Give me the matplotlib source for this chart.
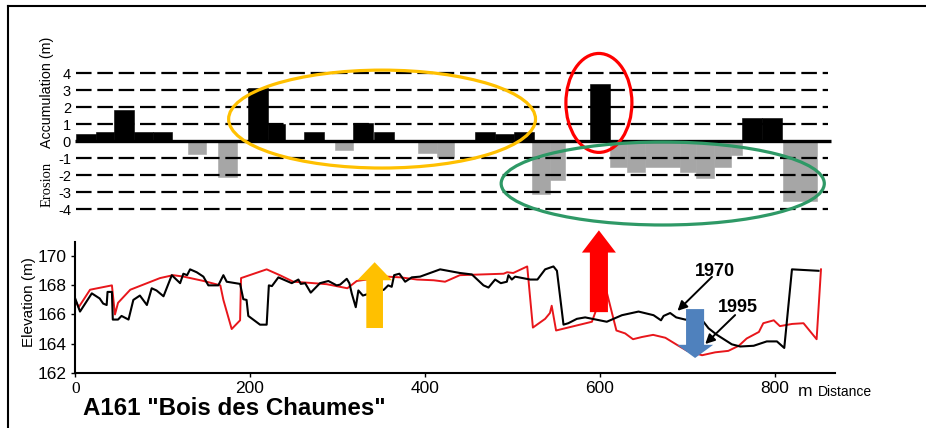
import matplotlib
matplotlib.use('Agg')
import matplotlib.pyplot as plt
from matplotlib.patches import FancyArrowPatch, Ellipse, ArrowStyle
from matplotlib.lines import Line2D

plt.rcParams['font.family'] = ['Liberation Sans', 'DejaVu Sans']

# accumulation / erosion bars (m) : left edge, width along the profile, value
bar_left = [1, 24, 44, 67, 89, 129, 163, 198, 221, 262, 297, 318, 342, 392, 414,
            457, 480, 502, 523, 543, 589, 612, 631, 652, 692, 710, 731, 750, 763, 785, 810]
bar_width = [23, 20, 23, 22, 22, 21, 22, 23, 19, 23, 21, 23, 23, 22, 19,
             23, 22, 23, 20, 17, 23, 19, 21, 40, 18, 21, 19, 13, 22, 23, 38]
bar_value = [0.4, 0.55, 1.85, 0.55, 0.55, -0.75, -2.1, 3.1, 1.0, 0.55, -0.5, 1.05, 0.55, -0.7, -0.95,
             0.55, 0.4, 0.55, -3.1, -2.3, 3.35, -1.5, -1.85, -1.5, -1.8, -2.2, -1.5, -0.85, 1.35, 1.35, -3.55]

# profile 1970 (black)
d_1970 = [0, 5.5, 19, 28, 32, 36, 37, 42, 43, 49, 53, 61, 66.5, 74, 82, 87.5, 93, 101, 110.5, 120,
          123.7, 128, 131.4, 139, 146.6, 152.3, 163.7, 169.5, 173.3, 188.6, 192.3, 196, 198, 211.4,
          219, 221.5, 225, 232.4, 247.7, 255.3, 258, 263, 269.4, 280, 289.6, 299, 303, 310.6, 313.6,
          316.3, 320.9, 323.9, 329, 340, 353, 358, 362, 364.8, 370.8, 377.4, 385, 394.5, 417.4, 440,
          453.7, 467, 472.7, 480.3, 486.8, 493.7, 495.5, 499.4, 503.2, 520.4, 528.7, 537.5, 547, 551,
          558.5, 564, 573.8, 583.3, 608, 625.3, 644.3, 661.5, 670, 673, 680.5, 687.4, 697.7, 710,
          718.6, 724.4, 734, 751, 760.6, 776, 791, 802.6, 811, 819.8, 850.2]
z_1970 = [167.1, 166.2, 167.45, 167.1, 166.75, 166.65, 167.55, 167.55, 165.65, 165.65, 165.9, 165.65,
          167.0, 167.3, 166.65, 167.8, 167.65, 167.25, 168.7, 168.15, 168.8, 168.7, 169.1, 168.9, 168.6,
          168.0, 168.0, 168.7, 168.25, 168.1, 167.05, 167.0, 165.9, 165.3, 165.3, 168.0, 167.95, 168.55,
          168.15, 168.4, 168.1, 168.15, 167.5, 168.15, 168.3, 168.0, 168.05, 168.45, 168.15, 167.45,
          166.5, 167.65, 167.3, 167.5, 167.7, 168.0, 167.9, 168.7, 168.8, 168.25, 168.55, 168.6, 169.1,
          168.85, 168.75, 168.0, 167.85, 168.4, 168.15, 168.25, 168.7, 168.4, 168.6, 168.4, 168.4, 169.1,
          169.3, 169.0, 165.3, 165.4, 165.7, 165.8, 165.5, 165.95, 166.2, 165.95, 165.6, 165.9, 166.1,
          165.8, 165.65, 165.6, 165.5, 165.05, 164.6, 163.95, 163.8, 163.85, 164.15, 164.15, 163.7,
          169.1, 169.0]

# profile 1995 (red)
d_1995 = [0, 4, 17, 42, 45.5, 49, 63, 97, 112, 124, 147, 166, 169.5, 179, 188.6, 189.7, 219, 234,
          249.5, 268.6, 287.7, 311.3, 322, 356, 372, 391, 410, 423, 440, 490, 494, 501, 517, 523.5,
          537.5, 543, 545, 550, 591, 606, 619, 629, 638, 648, 661, 675, 690, 700, 717, 732, 747, 759,
          768, 782, 787, 799, 806, 820, 833, 848, 853]
z_1995 = [167.0, 166.5, 167.7, 168.0, 166.0, 166.8, 167.7, 168.5, 168.7, 168.6, 168.3, 168.0, 167.0,
          165.0, 165.6, 168.5, 169.1, 168.7, 168.25, 168.17, 168.08, 167.8, 168.3, 168.6, 168.55, 168.4,
          168.35, 168.25, 168.7, 168.8, 168.9, 168.85, 169.3, 165.1, 165.7, 166.1, 166.6, 164.9, 165.5,
          168.0, 164.9, 164.7, 164.3, 164.45, 164.6, 164.4, 163.85, 163.5, 163.2, 163.4, 163.5, 163.85,
          164.35, 164.8, 165.4, 165.6, 165.2, 165.35, 165.4, 164.3, 169.1]

acc_ticks = [4, 3, 2, 1, 0, -1, -2, -3, -4]
elev_ticks = [162, 164, 166, 168, 170]
dist_ticks = [0, 200, 400, 600, 800]

fig = plt.figure(figsize=(9.26, 4.28), dpi=100)
ax_top = fig.add_axes([0.0812, 0.4918, 0.8205, 0.3575])
ax_bot = fig.add_axes([0.0812, 0.1292, 0.8205, 0.3061])

# ---- top panel: accumulation / erosion
colors = ['black' if v > 0 else '#a6a6a6' for v in bar_value]
ax_top.bar(bar_left, bar_value, width=bar_width, align='edge', color=colors,
           edgecolor=colors, linewidth=0.4, zorder=2)
for t in acc_ticks:
    if t == 0:
        continue
    ax_top.hlines(t, 1, 861, colors='black', linewidth=1.6, linestyles=(0, (7, 2.6)), zorder=3)
ax_top.hlines(0, 0, 864, colors='black', linewidth=2.4, zorder=4)
ax_top.set_xlim(0, 869)
ax_top.set_ylim(-4.5, 4.5)
ax_top.set_yticks(acc_ticks)
ax_top.set_yticklabels([str(t) for t in acc_ticks], fontsize=10.5)
ax_top.tick_params(axis='y', length=0, pad=3)
ax_top.set_xticks([])
for s in ax_top.spines.values():
    s.set_visible(False)
ax_top.patch.set_visible(False)

ax_top.add_patch(Ellipse((351, 1.29), 351, 5.76, fill=False, edgecolor='#ffc000',
                         linewidth=2.3, zorder=6, clip_on=False))
ax_top.add_patch(Ellipse((599, 2.24), 75.5, 5.82, fill=False, edgecolor='#ff0000',
                         linewidth=2.3, zorder=6, clip_on=False))
ax_top.add_patch(Ellipse((672, -2.5), 369.6, 4.88, fill=False, edgecolor='#2e9966',
                         linewidth=2.3, zorder=6, clip_on=False))

# ---- bottom panel: elevation profiles
ax_bot.plot(d_1970, z_1970, color='black', linewidth=1.5, zorder=3)
ax_bot.plot(d_1995, z_1995, color='#e8161b', linewidth=1.4, zorder=2)
ax_bot.set_xlim(0, 869)
ax_bot.set_ylim(162, 171)
ax_bot.set_yticks(elev_ticks)
ax_bot.set_yticklabels([str(t) for t in elev_ticks], fontsize=12.5)
ax_bot.set_xticks(dist_ticks)
ax_bot.set_xticklabels([str(t) for t in dist_ticks], fontsize=12.5)
ax_bot.get_xticklabels()[0].set_family('Liberation Serif')
ax_bot.tick_params(length=3, width=1, pad=3)
ax_bot.tick_params(axis='x', pad=3)
ax_bot.spines['top'].set_visible(False)
ax_bot.spines['right'].set_visible(False)
ax_bot.spines['left'].set_linewidth(1.5)
ax_bot.spines['bottom'].set_linewidth(1.5)
ax_bot.patch.set_visible(False)

big_arrows = [((342.5, 165.07), (342.5, 169.59), '#ffc000', 13, 25, 12),
              ((599, 166.16), (599, 171.78), '#ff0000', 16, 24.5, 13),
              ((709, 166.37), (709, 163.01), '#4f81bd', 9.5, 26, 13)]
for tail, tip, col, hl, hw, tw in big_arrows:
    style = ArrowStyle.Simple(head_length=hl, head_width=hw, tail_width=tw)
    ax_bot.add_patch(FancyArrowPatch(tail, tip, arrowstyle=style, color=col, linewidth=0,
                                     shrinkA=0, shrinkB=0, mutation_scale=1,
                                     clip_on=False, zorder=5))

ax_bot.annotate('', xy=(688.9, 166.25), xytext=(728.3, 168.58),
                arrowprops=dict(arrowstyle='-|>', color='black', lw=1.4,
                                mutation_scale=14, shrinkA=0, shrinkB=0), zorder=7)
ax_bot.annotate('', xy=(720.6, 163.97), xytext=(754.8, 165.96),
                arrowprops=dict(arrowstyle='-|>', color='black', lw=1.4,
                                mutation_scale=14, shrinkA=0, shrinkB=0), zorder=7)
ax_bot.text(732, 168.94, '1970', fontsize=13, fontweight='bold', ha='center', va='center', zorder=7)
ax_bot.text(757.8, 166.5, '1995', fontsize=13, fontweight='bold', ha='center', va='center', zorder=7)

# ---- labels and frame
fig.text(47.5 / 926, 1 - 92 / 428, 'Accumulation (m)', rotation=90, ha='center', va='center',
         fontsize=10.3)
fig.text(47 / 926, 1 - 184 / 428, 'Erosion', rotation=90, ha='center', va='center',
         fontsize=10.5, family='Liberation Serif')
fig.text(29 / 926, 1 - 302 / 428, 'Elevation (m)', rotation=90, ha='center', va='center',
         fontsize=11)
fig.text(798 / 926, 1 - 395.7 / 428, 'm', ha='left', va='baseline', fontsize=12.5)
fig.text(818 / 926, 1 - 395.7 / 428, 'Distance', ha='left', va='baseline', fontsize=10)
fig.text(83 / 926, 1 - 415 / 428, 'A161 "Bois des Chaumes"', ha='left', va='baseline',
         fontsize=17.4, fontweight='bold')

fig.add_artist(Line2D([7.5 / 926, 7.5 / 926], [0, 1 - 6 / 428], transform=fig.transFigure,
                      color='black', linewidth=1.5))
fig.add_artist(Line2D([7.5 / 926, 1], [1 - 6 / 428, 1 - 6 / 428], transform=fig.transFigure,
                      color='black', linewidth=1.5))

fig.savefig('out.png', dpi=100)
